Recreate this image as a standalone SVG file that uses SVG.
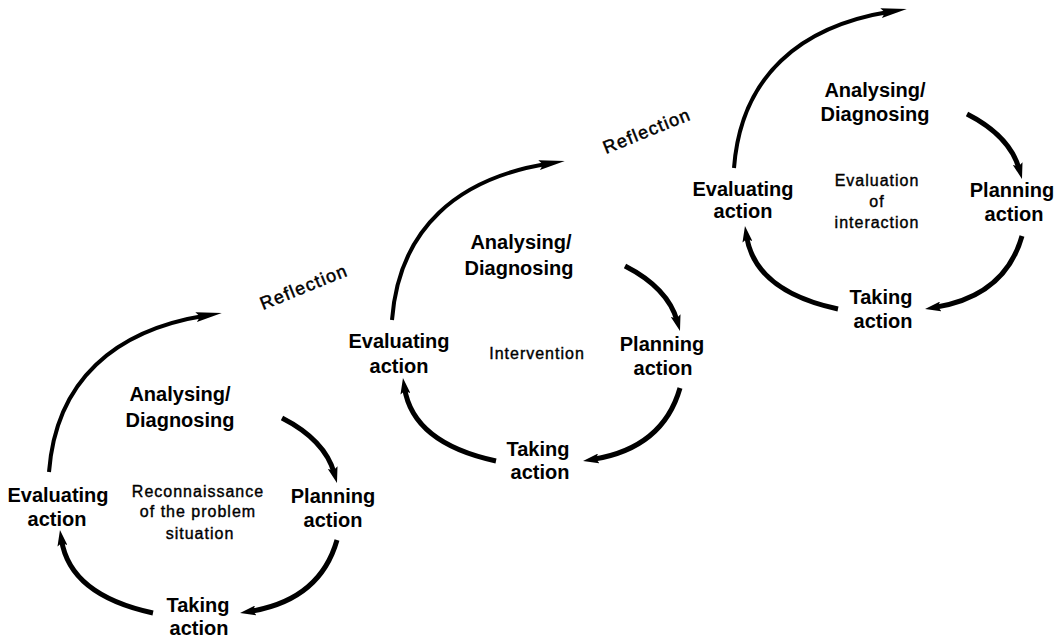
<svg xmlns="http://www.w3.org/2000/svg" width="1062" height="637" viewBox="0 0 1062 637">
<style>
.bg{fill:#ffffff}
.lbl{font-family:"Liberation Sans",Arial,sans-serif;font-size:20px;font-weight:bold;fill:#000;text-anchor:middle}
.sm{font-family:"Liberation Sans",Arial,sans-serif;font-size:16px;font-weight:normal;fill:#000;stroke:#000;stroke-width:0.4px;text-anchor:middle;letter-spacing:1px}
.refl{font-family:"Liberation Sans",Arial,sans-serif;font-size:18px;font-weight:normal;fill:#000;stroke:#000;stroke-width:0.5px;letter-spacing:1.3px}
.big{fill:none;stroke:#000;stroke-width:4;marker-end:url(#headB)}
.small{fill:none;stroke:#000;stroke-width:5;marker-end:url(#headS)}
</style>
<defs>
<marker id="headB" markerUnits="userSpaceOnUse" markerWidth="26" markerHeight="10" viewBox="0 0 26 10" refX="10" refY="5" orient="auto">
<path d="M0,0 L26,5 L0,10 L4,5 z" fill="#000"/>
</marker>
<marker id="headS" markerUnits="userSpaceOnUse" markerWidth="16" markerHeight="10" viewBox="0 0 16 10" refX="6" refY="5" orient="auto">
<path d="M0,0 L16,5 L0,10 L3,5 z" fill="#000"/>
</marker>
<g id="cycleArrows">
<path class="big" d="M49,472 C56,380 115,330 206,315.5"/>
<path class="small" d="M282,418 Q325,440 334.3,473.4"/>
<path class="small" d="M337,540 Q320,600 249.9,611.4"/>
<path class="small" d="M153,613 Q70,595 61.5,539.9"/>
</g>
</defs>
<rect class="bg" x="0" y="0" width="1062" height="637"/>
<g id="connectors">
<use href="#cycleArrows"/>
<use href="#cycleArrows" transform="translate(343,-152)"/>
<use href="#cycleArrows" transform="translate(685,-304)"/>
</g>
<g id="c1-analysing"><text class="lbl" x="180" y="401">Analysing/</text><text class="lbl" x="180" y="427">Diagnosing</text></g>
<g id="c1-evaluating"><text class="lbl" x="58" y="502">Evaluating</text><text class="lbl" x="57" y="526">action</text></g>
<g id="c1-center"><text class="sm" x="198" y="497">Reconnaissance</text><text class="sm" x="198" y="517">of the problem</text><text class="sm" x="200" y="539">situation</text></g>
<g id="c1-planning"><text class="lbl" x="333" y="503">Planning</text><text class="lbl" x="333" y="527">action</text></g>
<g id="c1-taking"><text class="lbl" x="198" y="612">Taking</text><text class="lbl" x="199" y="635">action</text></g>
<g id="reflection1"><text class="refl" transform="translate(263,310) rotate(-22)">Reflection</text></g>
<g id="c2-analysing"><text class="lbl" x="521" y="249">Analysing/</text><text class="lbl" x="519" y="275">Diagnosing</text></g>
<g id="c2-evaluating"><text class="lbl" x="399" y="348">Evaluating</text><text class="lbl" x="399" y="373">action</text></g>
<g id="c2-center"><text class="sm" x="537" y="359">Intervention</text></g>
<g id="c2-planning"><text class="lbl" x="662" y="351">Planning</text><text class="lbl" x="663" y="375">action</text></g>
<g id="c2-taking"><text class="lbl" x="538" y="456">Taking</text><text class="lbl" x="540" y="479">action</text></g>
<g id="reflection2"><text class="refl" transform="translate(606,154) rotate(-22)">Reflection</text></g>
<g id="c3-analysing"><text class="lbl" x="875" y="97">Analysing/</text><text class="lbl" x="875" y="121">Diagnosing</text></g>
<g id="c3-evaluating"><text class="lbl" x="743" y="196">Evaluating</text><text class="lbl" x="743" y="218">action</text></g>
<g id="c3-center"><text class="sm" x="877" y="186">Evaluation</text><text class="sm" x="877" y="207">of</text><text class="sm" x="877" y="228">interaction</text></g>
<g id="c3-planning"><text class="lbl" x="1012" y="197">Planning</text><text class="lbl" x="1014" y="221">action</text></g>
<g id="c3-taking"><text class="lbl" x="881" y="304">Taking</text><text class="lbl" x="883" y="328">action</text></g>
</svg>
